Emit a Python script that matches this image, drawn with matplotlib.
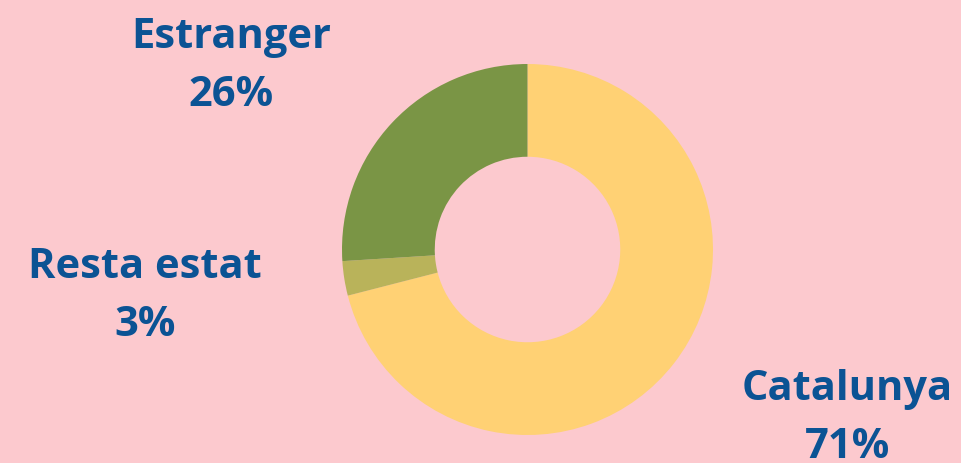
import matplotlib
matplotlib.use("Agg")
import matplotlib.pyplot as plt

categories = ["Catalunya", "Resta estat", "Estranger"]
values = [71, 3, 26]
colors = ["#ffd174", "#b9b35a", "#7a9545"]
bg = "#fcc9ce"
text_color = "#0b5394"

W, H = 961, 464
fig = plt.figure(figsize=(W / 100, H / 100), dpi=100, facecolor=bg)
# axes square around donut center (527.5, 250.5), outer radius 185.5 px
cx, cy, r = 527.5, 250.5, 185.5
ax = fig.add_axes([(cx - r) / W, 1 - (cy + r) / H, 2 * r / W, 2 * r / H])
ax.set_facecolor(bg)
ax.pie(values, colors=colors, startangle=90, counterclock=False,
       wedgeprops=dict(width=0.5, edgecolor="none"), radius=1.0)
ax.set_xlim(-1, 1)
ax.set_ylim(-1, 1)
ax.set_aspect("equal")
ax.axis("off")

# label positions (pixel centers)
label_pos = {"Catalunya": (847, 390), "Resta estat": (145, 268), "Estranger": (231, 38)}
for cat, v in zip(categories, values):
    x, y = label_pos[cat]
    fig.text(x / W, 1 - y / H, cat, ha="center", va="center",
             fontsize=30, fontweight="bold", family=["Open Sans", "DejaVu Sans"],
             color=text_color)
    fig.text(x / W, 1 - (y + 58) / H, f"{v}%", ha="center", va="center",
             fontsize=30, fontweight="bold", family=["Open Sans", "DejaVu Sans"],
             color=text_color)

fig.savefig("out.png", dpi=100, facecolor=bg)
